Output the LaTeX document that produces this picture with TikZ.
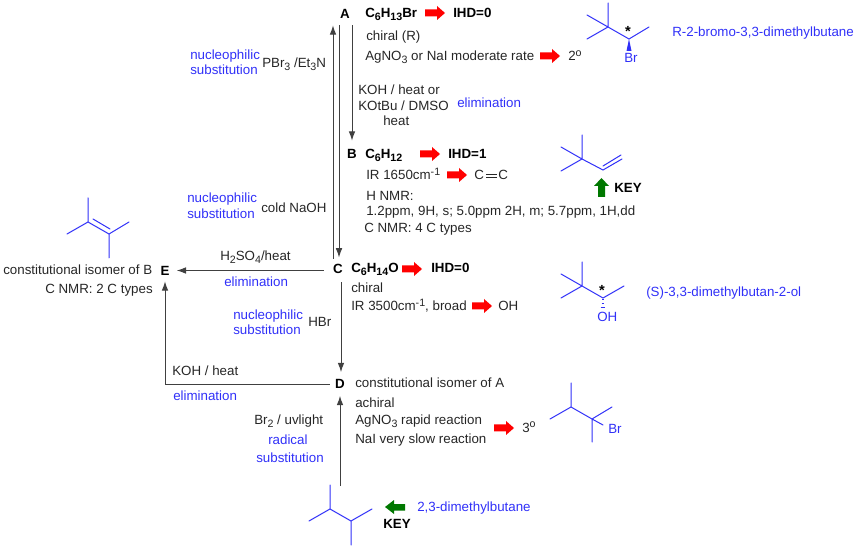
\documentclass[tikz,border=0pt]{standalone}
\usepackage{fontspec}
\setmainfont{Liberation Sans}
\usepackage{tikz}
\usetikzlibrary{arrows.meta,calc}
\definecolor{chemblue}{RGB}{48,48,248}
\definecolor{keygreen}{RGB}{0,120,0}
\newcommand{\lowtxt}[1]{\raisebox{-0.4ex}{\fontsize{8}{8}\selectfont #1}}
\newcommand{\hightxt}[1]{\raisebox{0.7ex}{\fontsize{8}{8}\selectfont #1}}

\begin{document}
\begin{tikzpicture}[
  x=0.75pt,y=-0.75pt,
  >={Latex[length=7pt,width=5pt]},
  every node/.style={font=\fontsize{10}{12}\selectfont,inner sep=0pt},
  txt/.style={anchor=base west,text=black!85},
  bold/.style={anchor=base west,font=\fontsize{10}{12}\selectfont\bfseries,text=black},
  blue/.style={anchor=base west,text=chemblue},
  letter/.style={anchor=center,font=\fontsize{10}{12}\selectfont\bfseries,text=black},
  conn/.style={->,line width=0.75pt,black!75},
  bond/.style={chemblue,line width=0.75pt,line cap=round},
]
\useasboundingbox (0,0) rectangle (856,548);

% ===================================================================
% Compound letters
% ===================================================================
\node[letter] (A) at (345,13.5) {A};
\node[letter] (B) at (352,153.5) {B};
\node[letter] (C) at (338,268.5) {C};
\node[letter] (D) at (340,384) {D};
\node[letter] (E) at (165,270.5) {E};
\coordinate (start) at (340,486);

% ===================================================================
% Reaction arrows
% ===================================================================
\draw[conn] ($(C.north)+(-5,-5)$) -- ($(A.south)+(-12,7)$);
\draw[conn] ($(A.south)+(-6,7)$) -- ($(C.north)+(1,-6)$);
\draw[conn] ($(A.south)+(7,7)$) -- ($(B.north)+(0,-8)$);
\draw[conn] ($(C.west)+(-9,2)$) -- ($(E.east)+(7,0)$);
\draw[conn] ($(C.south)+(3,9)$) -- ($(D.north)+(1,-7)$);
\draw[conn] ($(D.west)+(-5,1)$) -| ($(E.south)+(0,6)$);
\draw[conn] (start) -- ($(D.south)+(0,7)$);

% ===================================================================
% Block arrows
% ===================================================================
\foreach \x/\y in {425/13,540/56,420/154,447/175,402/269,472/306,494/428} {
  \fill[red] (\x,\y-3.5) -- (\x+12,\y-3.5) -- (\x+12,\y-7) -- (\x+20,\y)
    -- (\x+12,\y+7) -- (\x+12,\y+3.5) -- (\x,\y+3.5) -- cycle;
}
% KEY arrows
\fill[keygreen] (598,197) -- (598,186) -- (594,186) -- (601.5,178) -- (609,186)
  -- (605,186) -- (605,197) -- cycle;
\fill[keygreen] (405,504) -- (394,504) -- (394,500) -- (385,507) -- (394,514)
  -- (394,510.5) -- (405,510.5) -- cycle;

% ===================================================================
% Compound A
% ===================================================================
\node[bold] (fA) at (365,18) {C\lowtxt{6}H\lowtxt{13}Br};
\node[bold] (ihdA) at (453,18) {IHD=0};
\node[txt] (chiA) at (366,41) {chiral (R)};
\node[txt] (rateA) at (365,61) {AgNO\lowtxt{3} or NaI moderate rate};
\node[txt] (degA) at (568,61) {2\hightxt{o}};
\node[blue] (nameA) at (672,37) {R-2-bromo-3,3-dimethylbutane};
\draw[bond] (608,3) -- (608,27) (587,15) -- (608,27) (587,39) -- (608,27)
  -- (629,39) -- (649,27);
\fill[chemblue] (629,39) -- (626.5,51) -- (631.5,51) -- cycle;
\node[blue] (brA) at (624,63) {Br};
\node[letter,font=\fontsize{11}{11}\selectfont\bfseries] (starA) at (628,31) {*};

% ===================================================================
% A to B, A to C
% ===================================================================
\node[txt] (baseA) at (358,95) {KOH / heat or};
\node[txt] (baseB) at (358,111) {KOtBu / DMSO};
\node[txt] (heatA) at (383,126) {heat};
\node[blue] (elimA) at (457,108) {elimination};
\node[blue] (subA) at (190,60) {nucleophilic};
\node[blue] (subB) at (190,75) {substitution};
\node[txt] (pbr) at (262,68) {PBr\lowtxt{3} /Et\lowtxt{3}N};

% ===================================================================
% Compound B
% ===================================================================
\node[bold] (fB) at (365,159) {C\lowtxt{6}H\lowtxt{12}};
\node[bold] (ihdB) at (448,159) {IHD=1};
\node[txt] (irB) at (366,180) {IR 1650cm\hightxt{-1}};
\node[txt] (cOne) at (474,179.5) {C};
\node[txt] (cTwo) at (498,179.5) {C};
\draw[line width=0.75pt,black!85] (486,174.3) -- (497,174.3) (486,178) -- (497,178);
\node[txt] (hnmr) at (366,201) {H NMR:};
\node[txt] (hdata) at (366,216) {1.2ppm, 9H, s; 5.0ppm 2H, m; 5.7ppm, 1H,dd};
\node[txt] (cnmr) at (364,233) {C NMR: 4 C types};
\draw[bond] (582,135) -- (582,159) (561,147) -- (582,159) (561,171) -- (582,159)
  -- (603,170) -- (622,159) (603,166) -- (621,155);
\node[bold] (keyB) at (614,193) {KEY};

% ===================================================================
% B to C, compound E
% ===================================================================
\node[blue] (subC) at (187,203) {nucleophilic};
\node[blue] (subD) at (187,219) {substitution};
\node[txt] (naoh) at (261,213) {cold NaOH};
\node[txt] (acid) at (220,261) {H\lowtxt{2}SO\lowtxt{4}/heat};
\node[blue] (elimB) at (224,287) {elimination};
\node[txt] (isoE) at (3,275) {constitutional isomer of B};
\node[txt] (cnmrE) at (45,294) {C NMR: 2 C types};
\draw[bond] (88,198) -- (88,222) (67,234) -- (88,222) -- (109,234) -- (129,222)
  (109,234) -- (109,258) (93,219) -- (110,229);

% ===================================================================
% Compound C
% ===================================================================
\node[bold] (fC) at (351,273) {C\lowtxt{6}H\lowtxt{14}O};
\node[bold] (ihdC) at (431,273) {IHD=0};
\node[txt] (chiC) at (351,293) {chiral};
\node[txt] (irC) at (351,311) {IR 3500cm\hightxt{-1}, broad};
\node[txt] (ohC) at (498,311) {OH};
\node[blue] (nameC) at (646,297) {(S)-3,3-dimethylbutan-2-ol};
\draw[bond] (582,262) -- (582,286) (561,274) -- (582,286) (561,298) -- (582,286)
  -- (603,298) -- (624,286);
% hashed bond to OH
\foreach \y/\w in {300/0.8,304/1.4,308/2.4} {
  \draw[chemblue,line width=0.75pt] (603-\w,\y) -- (603+\w,\y);
}
\node[blue] (ohB) at (597,322) {OH};
\node[letter,font=\fontsize{11}{11}\selectfont\bfseries] (starC) at (602,290) {*};

% ===================================================================
% C to D, D to E
% ===================================================================
\node[blue] (subE) at (233,320) {nucleophilic};
\node[blue] (subF) at (233,335) {substitution};
\node[txt] (hbr) at (308,327) {HBr};
\node[txt] (koh) at (172,376) {KOH / heat};
\node[blue] (elimC) at (173,401) {elimination};

% ===================================================================
% Compound D
% ===================================================================
\node[txt] (isoD) at (355,388) {constitutional isomer of A};
\node[txt] (achi) at (355,407) {achiral};
\node[txt] (rateD) at (355,425) {AgNO\lowtxt{3} rapid reaction};
\node[txt] (rateE) at (355,443) {NaI very slow reaction};
\node[txt] (degD) at (522,432) {3\hightxt{o}};
\draw[bond] (571,383) -- (571,407) (550,419) -- (571,407) -- (592,419) -- (612,407)
  (592,419) -- (592,442) (592,419) -- (603,425);
\node[blue] (brD) at (608,434) {Br};

% ===================================================================
% Starting alkane
% ===================================================================
\node[txt] (light) at (254,425) {Br\lowtxt{2} / uvlight};
\node[blue] (radA) at (268,445) {radical};
\node[blue] (radB) at (256,462) {substitution};
\draw[bond] (330,485) -- (330,509) (309,521) -- (330,509) -- (351,521) -- (372,509)
  (351,521) -- (351,545);
\node[blue] (nameD) at (417,511) {2,3-dimethylbutane};
\node[bold] (keyD) at (383,528) {KEY};

\end{tikzpicture}
\end{document}
